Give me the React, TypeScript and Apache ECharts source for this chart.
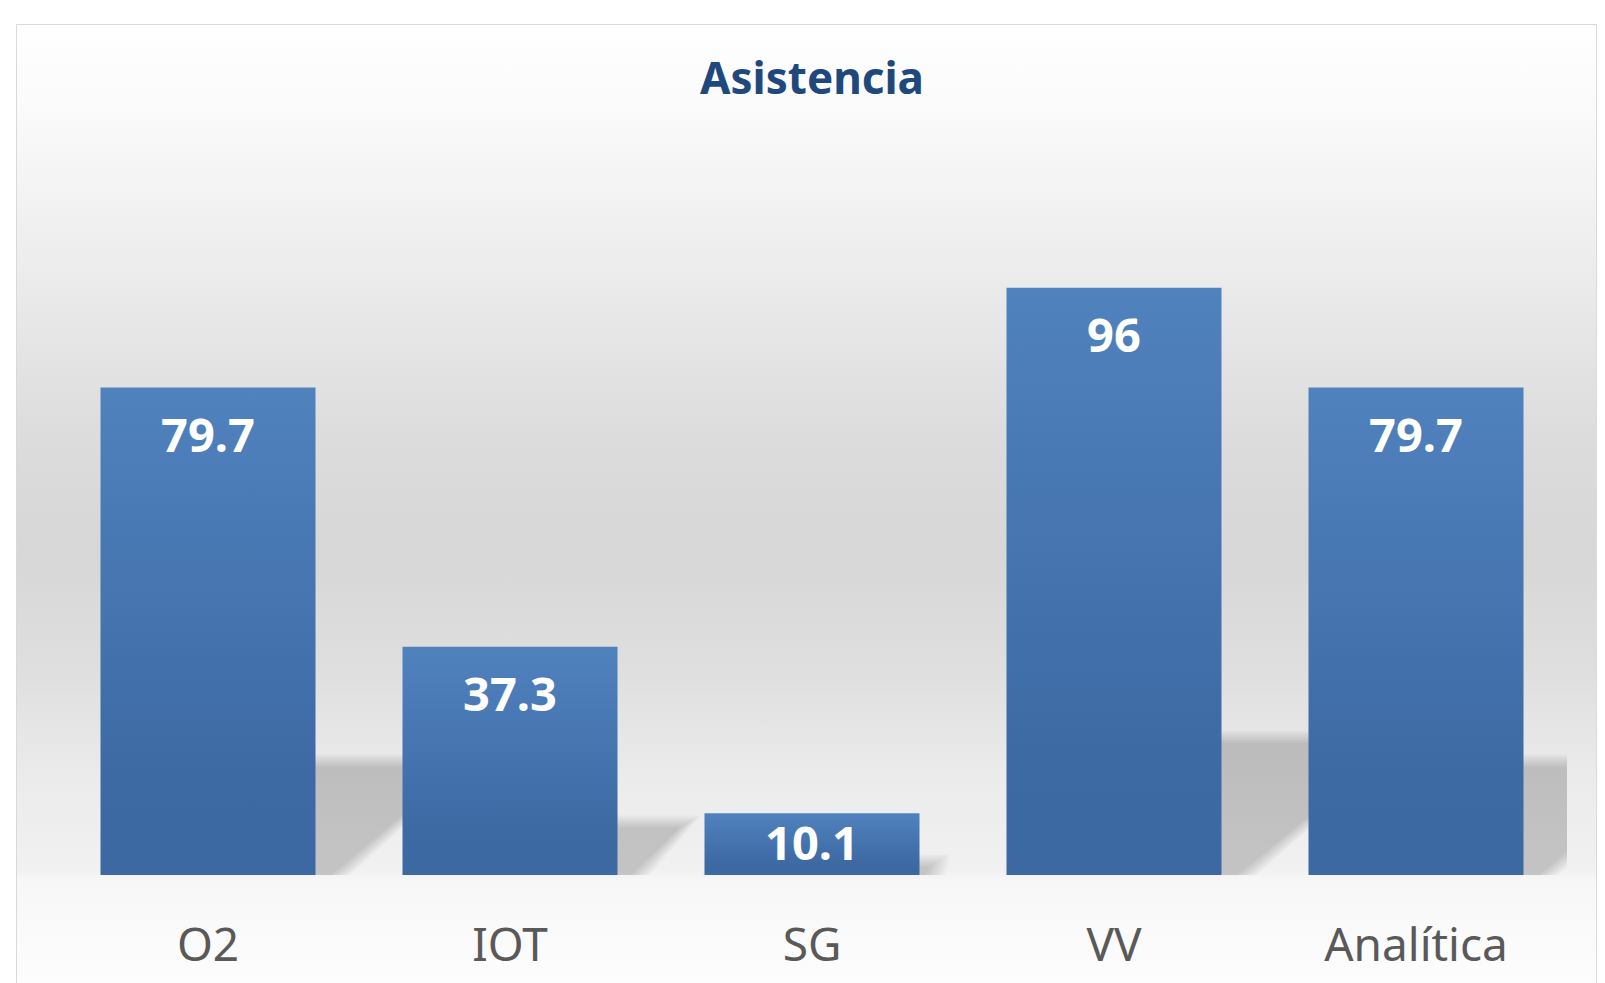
import React, { useEffect, useRef } from "react";
import * as echarts from "echarts";

const categories = ["O2", "IOT", "SG", "VV", "Analítica"];
const attendance = [79.7, 37.3, 10.1, 96, 79.7];
const chartTitle = "Asistencia";
const yMin = 0;
const yMax = 120;

const FONT = '"Noto Sans", "Open Sans", sans-serif';
const BAR_WIDTH = 215;
const SHADOW_LAYERS = [-6, -4, -2, 0, 2, 4, 6];

export default function App() {
  const ref = useRef<HTMLDivElement>(null);

  useEffect(() => {
    if (!ref.current) return;
    const chart = echarts.init(ref.current, null, { renderer: "svg" });

    const bg = new echarts.graphic.LinearGradient(0, 0, 0, 1, [
      { offset: 0, color: "#ffffff" },
      { offset: 0.076, color: "#fbfbfb" },
      { offset: 0.245, color: "#ececec" },
      { offset: 0.414, color: "#dcdcdc" },
      { offset: 0.526, color: "#d7d7d7" },
      { offset: 0.639, color: "#dedede" },
      { offset: 0.752, color: "#ebebeb" },
      { offset: 0.846, color: "#f1f1f1" },
      { offset: 0.856, color: "#f7f7f7" },
      { offset: 0.959, color: "#fdfdfd" },
      { offset: 1, color: "#ffffff" },
    ]);

    const barFill = new echarts.graphic.LinearGradient(0, 0, 0, 1, [
      { offset: 0, color: "#5082be" },
      { offset: 0.55, color: "#4371ab" },
      { offset: 0.8, color: "#3d6aa3" },
      { offset: 1, color: "#3c69a2" },
    ]);

    const layerAlpha = 1 - Math.pow(1 - 0.175, 1 / SHADOW_LAYERS.length);

    chart.setOption({
      animation: false,
      backgroundColor: "#ffffff",
      title: {
        text: chartTitle,
        left: 812,
        top: 55,
        padding: 0,
        textAlign: "center",
        textStyle: {
          fontFamily: FONT,
          fontSize: 44,
          fontWeight: "bold",
          color: "#1f497d",
        },
      },
      graphic: {
        elements: [
          {
            type: "rect",
            z: -100,
            silent: true,
            shape: { x: 16.5, y: 24.5, width: 1580, height: 1000 },
            style: { fill: bg, stroke: "#d9d9d9", lineWidth: 1 },
          },
        ],
      },
      grid: { left: 57, right: 38, top: 141, bottom: 108 },
      xAxis: {
        type: "category",
        data: categories,
        axisLine: { show: false },
        axisTick: { show: false },
        splitLine: { show: false },
        axisLabel: {
          margin: 45,
          fontSize: 46,
          color: "#595959",
          fontFamily: FONT,
        },
      },
      yAxis: {
        type: "value",
        min: yMin,
        max: yMax,
        show: false,
        splitLine: { show: false },
      },
      series: [
        {
          type: "custom",
          z: 1,
          clip: true,
          silent: true,
          data: attendance.map((v, i) => [i, v]),
          encode: { x: 0, y: 1 },
          renderItem: (params: any, api: any) => {
            const i = api.value(0);
            const v = api.value(1);
            const base = api.coord([i, 0]);
            const top = api.coord([i, v]);
            const half = BAR_WIDTH / 2;
            const L = base[0] - half;
            const R = base[0] + half;
            const h = base[1] - top[1];
            const sh = h * 0.235;
            const dx = sh * 1.36;
            const k = Math.sqrt(dx * dx + sh * sh) / Math.max(sh, 1);
            const children = SHADOW_LAYERS.map((d) => ({
              type: "polygon",
              shape: {
                points: [
                  [L - d * k, base[1] + 10],
                  [R + d * k + (10 * dx) / Math.max(sh, 1), base[1] + 10],
                  [R + dx + d * k, base[1] - sh - d],
                  [L + dx - d * k, base[1] - sh - d],
                ],
              },
              style: { fill: `rgba(0,0,0,${layerAlpha.toFixed(4)})` },
            }));
            return { type: "group", children };
          },
        },
        {
          type: "bar",
          z: 3,
          barWidth: BAR_WIDTH,
          itemStyle: { color: barFill },
          data: attendance.map((v) =>
            v < 20
              ? { value: v, label: { position: "inside", offset: [0, -2] } }
              : { value: v }
          ),
          label: {
            show: true,
            position: ["50%", 46.5],
            align: "center",
            verticalAlign: "middle",
            color: "#ffffff",
            fontSize: 47,
            fontWeight: "bold",
            fontFamily: FONT,
          },
        },
      ],
    });

    return () => chart.dispose();
  }, []);

  return (
    <div
      ref={ref}
      style={{ position: "fixed", left: 0, top: 0, width: 1605, height: 983 }}
    />
  );
}
